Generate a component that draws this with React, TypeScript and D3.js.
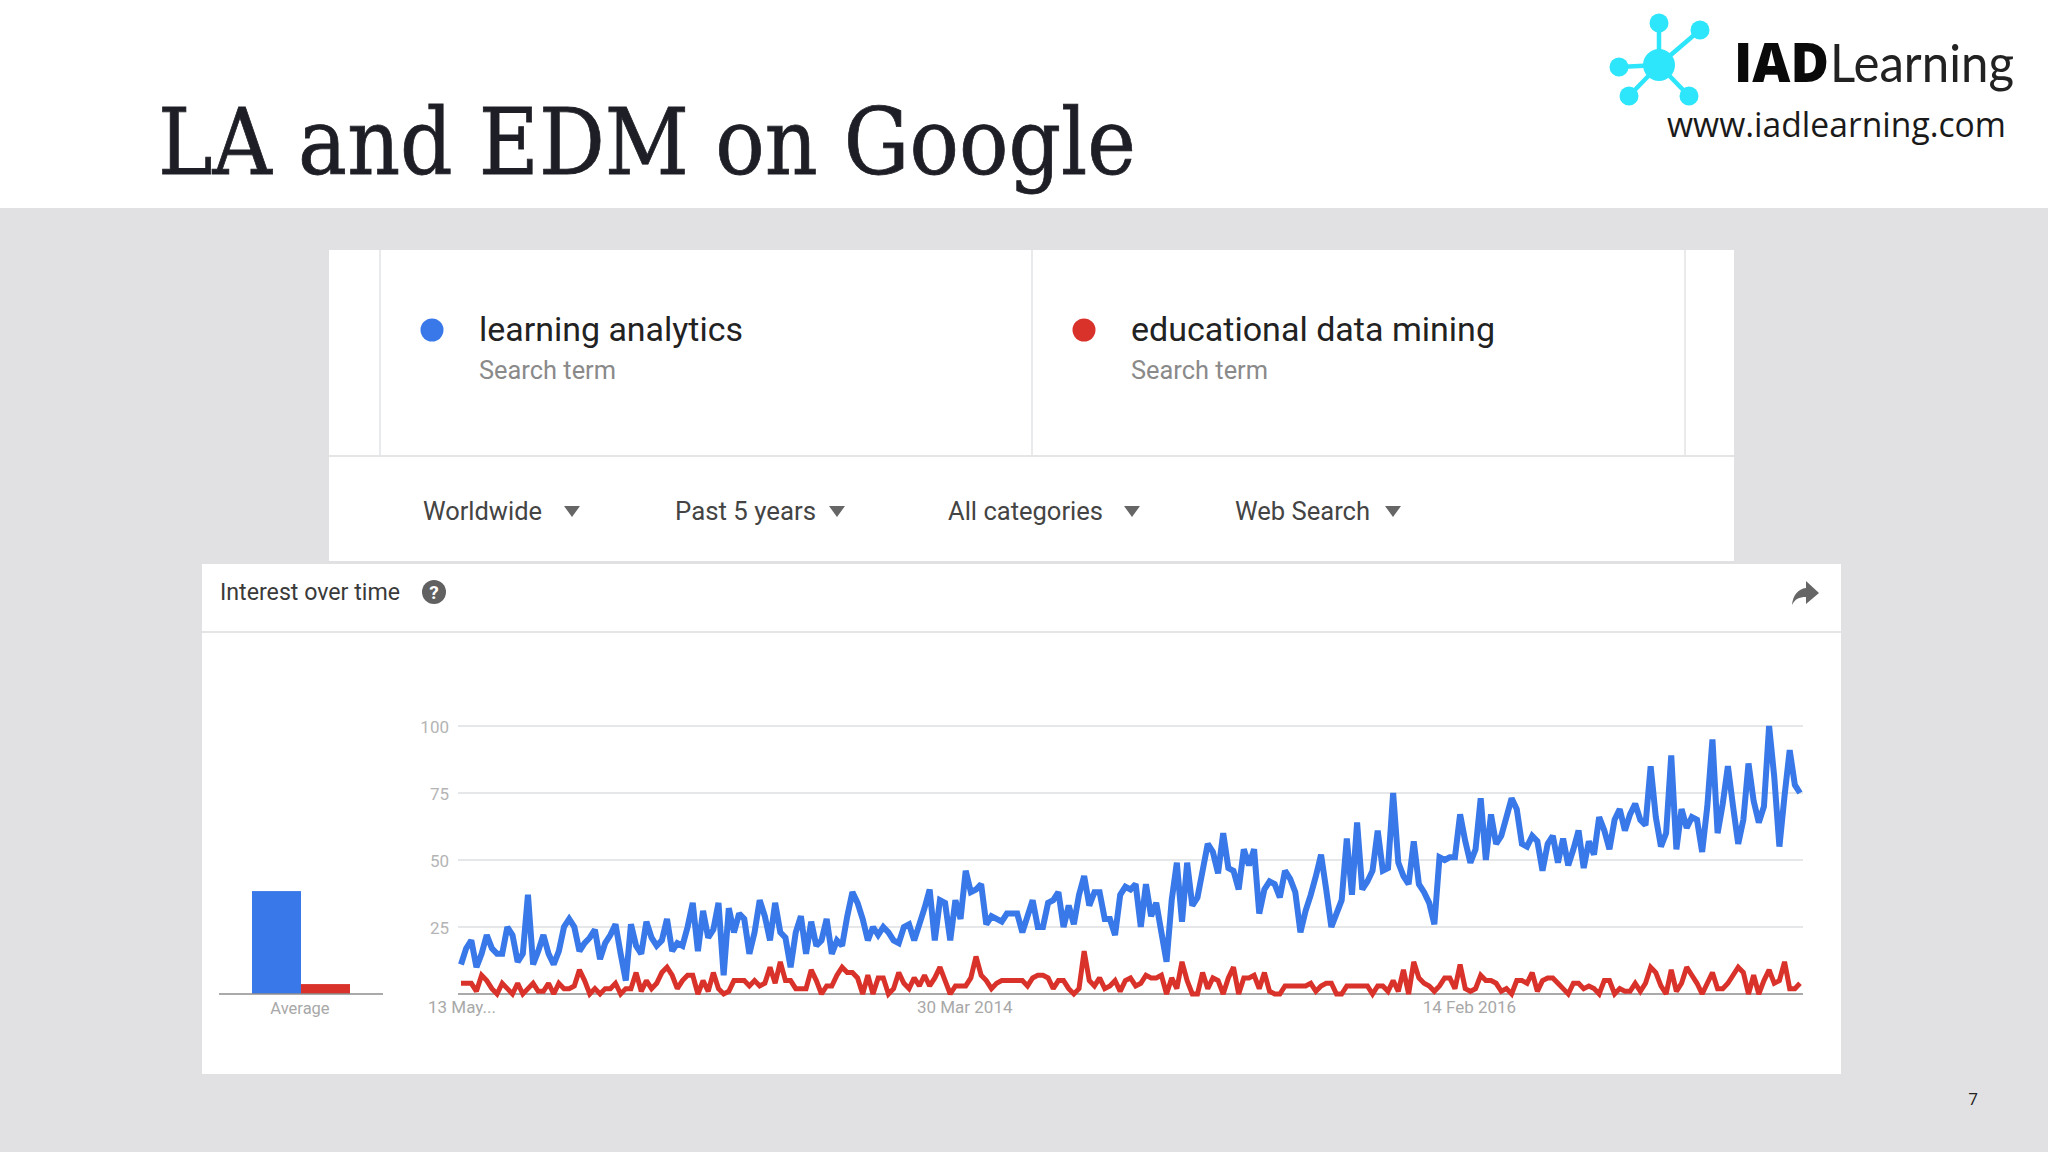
import React from "react";
import * as d3 from "d3";

const blueValues = [
  11,17,20,10,15,22,17,15,15,25,22,12,15,37,11,16,22,15,11,16,
  25,28,25,16,19,21,24,13,19,22,26,15,5,26,18,15,27,21,18,20,
  28,16,19,18,25,34,16,31,21,24,34,7,32,23,30,28,15,23,35,29,
  20,34,23,21,10,23,29,15,27,18,20,28,15,20,18,29,38,34,28,20,
  25,22,25,23,20,19,25,26,20,26,32,39,20,35,34,20,35,
  28,46,38,39,41,26,29,28,27,30,30,30,23,29,35,25,25,34,35,38,
  25,33,26,37,44,33,38,38,28,28,22,37,40,39,41,25,41,29,34,23,
  12,35,49,27,49,33,36,46,56,53,45,60,47,46,39,54,48,54,30,39,
  42,41,36,46,43,38,23,31,37,44,52,39,25,30,35,58,37,64,39,42,46,61,
  46,47,75,49,44,41,57,41,38,34,26,51,50,51,51,67,57,49,54,73,
  50,67,56,59,66,73,69,56,55,59,57,46,56,59,49,58,48,54,61,47,
  57,52,66,61,54,65,69,61,67,71,65,63,85,66,55,60,89,54,69,62,
  66,65,53,70,95,60,71,85,70,56,65,86,72,64,70,100,81,55,74,91,78,75,
];
const redValues = [
  4,4,4,1,7,5,2,0,4,2,0,4,0,2,4,1,1,4,0,4,
  2,2,3,9,5,0,2,0,2,2,4,0,2,2,8,1,5,2,4,8,
  10,7,2,5,7,7,0,5,1,8,2,0,1,5,5,5,3,5,3,4,
  10,4,12,5,5,2,2,2,9,5,0,3,3,7,10,8,8,6,0,7,
  0,6,6,0,2,8,4,2,6,3,7,3,6,10,5,0,3,
  3,3,6,14,7,5,2,4,5,5,5,5,5,3,6,7,7,6,2,5,
  5,2,0,2,16,5,3,6,2,3,5,1,5,6,3,4,7,6,6,7,
  0,6,2,12,5,0,0,8,2,6,5,0,6,10,0,6,6,7,2,8,
  1,0,0,3,3,3,3,3,4,1,3,4,4,0,0,3,3,3,3,3,0,3,
  3,1,5,1,9,0,12,6,4,3,1,3,6,6,2,11,2,1,2,7,
  5,5,4,1,2,0,5,5,4,8,1,5,6,6,4,2,0,4,4,2,
  3,2,0,5,5,0,2,1,1,4,1,4,10,8,3,0,9,1,4,10,
  7,4,0,4,8,2,2,4,7,10,8,0,7,0,5,9,4,5,12,2,2,4,
];
const averageValues = [38.4, 3.7];
const yTicks = [25, 50, 75, 100];
const dateLabels = [
  { text: "13 May...", index: 0, anchor: "start", dx: -33 },
  { text: "30 Mar 2014", index: 98, anchor: "middle", dx: -1 },
  { text: "14 Feb 2016", index: 196, anchor: "middle", dx: -1 },
];
const terms = ["learning analytics", "educational data mining"];
const filters = ["Worldwide", "Past 5 years", "All categories", "Web Search"];

const BLUE = "#3878e8";
const RED = "#d8322a";
const SANS = "Roboto, 'Noto Sans', sans-serif";

const nPts = Math.max(blueValues.length, redValues.length);
const x = d3.scaleLinear().domain([0, nPts - 1]).range([461, 1800]);
const y = d3.scaleLinear().domain([0, 100]).range([994, 726]);
const line = d3
  .line<number>()
  .x((_, i) => x(i))
  .y((d) => y(d));
const barX = d3.scaleBand<number>().domain([0, 1]).range([252, 350]);

const termX = [{ dot: 432, text: 479 }, { dot: 1084, text: 1131 }];
const filterX = [
  { text: 423, arrow: 572 },
  { text: 675, arrow: 837 },
  { text: 948, arrow: 1132 },
  { text: 1235, arrow: 1393 },
];
const filterW = [119, 141, 155, 135];
const logoNodes = [
  [1659, 23], [1700, 30], [1619, 67], [1629, 96], [1689, 96],
];

export default function App() {
  return (
    <svg
      width={2048}
      height={1152}
      viewBox="0 0 2048 1152"
      style={{ position: "absolute", left: 0, top: 0, background: "#e1e1e3" }}
    >
      <rect x={0} y={0} width={2048} height={208} fill="#fff" />
      <text
        x={158}
        y={174}
        fontFamily="'DejaVu Serif', 'Liberation Serif', serif"
        fontSize={91}
        textLength={978}
        lengthAdjust="spacingAndGlyphs"
        fill="#1e1f26"
        stroke="#1e1f26"
        strokeWidth={0.8}
      >
        LA and EDM on Google
      </text>

      {/* logo */}
      {logoNodes.map(([cx, cy], i) => (
        <g key={i}>
          <line x1={1659} y1={65} x2={cx} y2={cy} stroke="#2ee6fb" strokeWidth={4.5} />
          <circle cx={cx} cy={cy} r={9.5} fill="#2ee6fb" />
        </g>
      ))}
      <circle cx={1659} cy={65} r={16} fill="#2ee6fb" />
      <text x={1734} y={82} fontFamily="'Open Sans', sans-serif" fontWeight={800} fontSize={54} textLength={95} lengthAdjust="spacingAndGlyphs" fill="#0a0a0a">IAD</text>
      <text x={1830} y={82} fontFamily="Lato, sans-serif" fontWeight={400} fontSize={52} textLength={184} lengthAdjust="spacingAndGlyphs" fill="#222">Learning</text>
      <text x={1667} y={137} fontFamily="'Open Sans', sans-serif" fontSize={35} textLength={339} lengthAdjust="spacingAndGlyphs" fill="#1a1a1a">www.iadlearning.com</text>

      {/* search panel */}
      <rect x={329} y={250} width={1405} height={311} fill="#fff" />
      {[380, 1032, 1685].map((d) => (
        <line key={d} x1={d} x2={d} y1={250} y2={456} stroke="#e2e3e6" strokeWidth={1.5} />
      ))}
      <line x1={329} x2={1734} y1={456} y2={456} stroke="#e4e5e7" strokeWidth={2} />
      {terms.map((t, i) => (
        <g key={t}>
          <circle cx={termX[i].dot} cy={330} r={11.5} fill={i === 0 ? BLUE : RED} />
          <text x={termX[i].text} y={341} fontFamily={SANS} fontSize={33} textLength={i === 0 ? 264 : 364} lengthAdjust="spacingAndGlyphs" fill="#222">{t}</text>
          <text x={termX[i].text} y={379} fontFamily={SANS} fontSize={25} textLength={137} lengthAdjust="spacingAndGlyphs" fill="#8a8a8a">Search term</text>
        </g>
      ))}
      {filters.map((t, i) => (
        <g key={t}>
          <text x={filterX[i].text} y={520} fontFamily={SANS} fontSize={25.5} textLength={filterW[i]} lengthAdjust="spacingAndGlyphs" fill="#444">{t}</text>
          <path
            d={d3.line()([
              [filterX[i].arrow - 8, 506],
              [filterX[i].arrow + 8, 506],
              [filterX[i].arrow, 517],
            ]) + "Z"}
            fill="#666"
          />
        </g>
      ))}

      {/* interest panel */}
      <rect x={202} y={564} width={1639} height={510} fill="#fff" />
      <line x1={202} x2={1841} y1={632} y2={632} stroke="#e4e5e7" strokeWidth={2} />
      <text x={220} y={600} fontFamily={SANS} fontSize={23.5} textLength={180} lengthAdjust="spacingAndGlyphs" fill="#3a3a3a">Interest over time</text>
      <circle cx={434} cy={592} r={12} fill="#616161" />
      <text x={434} y={599} textAnchor="middle" fontFamily={SANS} fontWeight={700} fontSize={19} fill="#fff">?</text>
      <path d="M1806 581 L1819 593 L1806 604 L1806 597 C1799 597 1795 599 1792 605 C1793 595 1798 589 1806 588 Z" fill="#666" />

      {/* average bars */}
      {averageValues.map((v, i) => (
        <rect key={i} x={barX(i)} y={y(v)} width={barX.bandwidth()} height={y(0) - y(v)} fill={i === 0 ? BLUE : RED} />
      ))}
      <line x1={219} x2={383} y1={994} y2={994} stroke="#8e8e8e" strokeWidth={1.5} />
      <text x={300} y={1014} textAnchor="middle" fontFamily={SANS} fontSize={16.5} fill="#a8a8a8">Average</text>

      {/* grid and axes */}
      {yTicks.map((t) => (
        <g key={t}>
          <line x1={458} x2={1803} y1={y(t)} y2={y(t)} stroke="#dedfe2" strokeWidth={1.5} />
          <text x={449} y={y(t) + 7} textAnchor="end" fontFamily={SANS} fontSize={17} fill="#b4b4b4">{t}</text>
        </g>
      ))}
      <line x1={458} x2={1803} y1={y(0)} y2={y(0)} stroke="#8e8e8e" strokeWidth={1.5} />
      {dateLabels.map((d) => (
        <text key={d.text} x={x(d.index) + d.dx} y={1013} textAnchor={d.anchor as any} fontFamily={SANS} fontSize={17} fill="#a8a8a8">{d.text}</text>
      ))}

      {/* lines */}
      <path d={line(redValues) ?? ""} fill="none" stroke={RED} strokeWidth={5} strokeMiterlimit={2} />
      <path d={line(blueValues) ?? ""} fill="none" stroke={BLUE} strokeWidth={6} strokeMiterlimit={2} />

      <text x={1973} y={1105} textAnchor="middle" fontFamily="'Open Sans', sans-serif" fontSize={17} fill="#222">7</text>
    </svg>
  );
}
